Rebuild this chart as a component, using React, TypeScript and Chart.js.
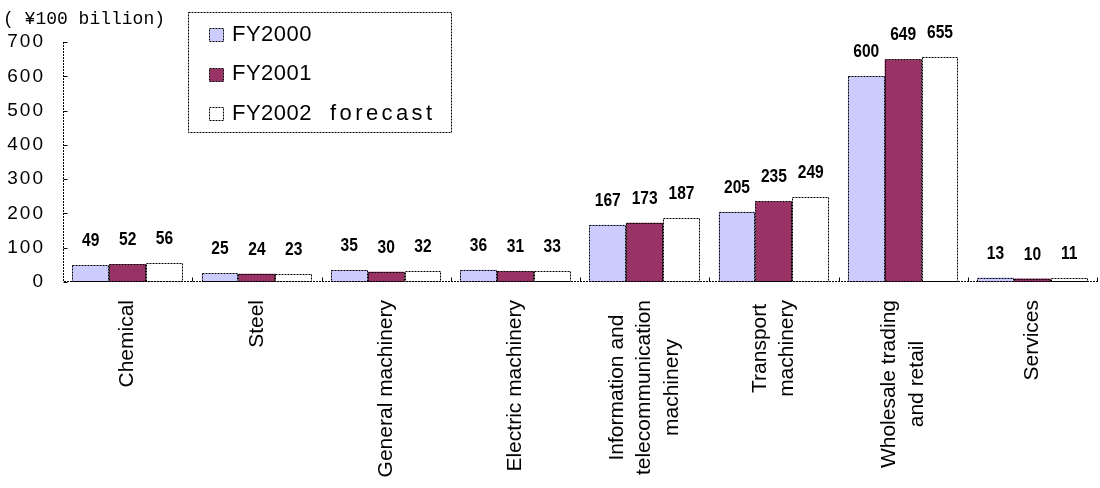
import { useEffect, useRef } from "react";
import { Chart, registerables } from "chart.js";

Chart.register(...registerables);

// Industry categories (multi-line labels are drawn rotated, each line centred)
const categories: string[][] = [
  ["Chemical"],
  ["Steel"],
  ["General machinery"],
  ["Electric machinery"],
  ["Information and", "telecommunication", "machinery"],
  ["Transport", "machinery"],
  ["Wholesale trading", "and retail"],
  ["Services"],
];

// Values in units of ¥100 billion
const fy2000 = [49, 25, 35, 36, 167, 205, 600, 13];
const fy2001 = [52, 24, 30, 31, 173, 235, 649, 10];
const fy2002Forecast = [56, 23, 32, 33, 187, 249, 655, 11];

const seriesNames = ["FY2000", "FY2001", "FY2002 forecast"];
const seriesColors = ["#CCCCFF", "#993366", "#FFFFFF"];

const yMin = 0;
const yMax = 700;
const yStep = 100;
const unitLabel = "( \u00a5100 billion)";

const DASH = [2, 1];

const decorPlugin = {
  id: "decor",
  beforeDraw(chart: any) {
    // wider digit spacing for the value-axis tick labels
    chart.ctx.letterSpacing = "2px";
  },
  beforeDatasetsDraw(chart: any) {
    chart.ctx.letterSpacing = "0px";
  },
  afterDatasetsDraw(chart: any) {
    const ctx = chart.ctx as CanvasRenderingContext2D;
    ctx.save();
    ctx.letterSpacing = "0px";
    chart.data.datasets.forEach((ds: any, di: number) => {
      const meta = chart.getDatasetMeta(di);
      meta.data.forEach((el: any, i: number) => {
        const { x, y, base, width } = el.getProps(["x", "y", "base", "width"], true);
        const left = Math.round(x - width / 2) + 0.5;
        const right = Math.round(x + width / 2) - 0.5;
        const top = Math.round(y) + 0.5;
        const bottom = Math.round(base) - 0.5;
        ctx.save();
        ctx.setLineDash(DASH);
        ctx.strokeStyle = "#000";
        ctx.lineWidth = 1;
        ctx.strokeRect(left, top, right - left, bottom - top);
        ctx.restore();

        // value label above the bar
        ctx.save();
        ctx.translate(x, y - 19);
        ctx.scale(0.82, 1);
        ctx.font = "bold 19px 'Liberation Sans', Arial, sans-serif";
        ctx.fillStyle = "#000";
        ctx.textAlign = "center";
        ctx.textBaseline = "alphabetic";
        ctx.fillText(String(ds.data[i]), 0, 0);
        ctx.restore();
      });
    });
    ctx.restore();
  },
  afterDraw(chart: any) {
    const ctx = chart.ctx as CanvasRenderingContext2D;
    const area = chart.chartArea;
    const xScale = chart.scales.x;
    const yScale = chart.scales.y;
    ctx.save();
    ctx.letterSpacing = "0px";
    ctx.strokeStyle = "#000";
    ctx.lineWidth = 1;
    ctx.setLineDash(DASH);

    const axX = Math.round(area.left) + 0.5;
    const axY = Math.round(area.bottom) - 0.5;

    // axis lines
    ctx.beginPath();
    ctx.moveTo(axX, Math.round(area.top));
    ctx.lineTo(axX, axY);
    ctx.lineTo(Math.round(area.right) + 1, axY);
    ctx.stroke();

    // value-axis tick marks (pointing into the plot)
    ctx.setLineDash([]);
    ctx.beginPath();
    yScale.ticks.forEach((t: any) => {
      const py = Math.round(yScale.getPixelForValue(t.value)) + 0.5;
      ctx.moveTo(axX, py);
      ctx.lineTo(axX + 4, py);
    });
    // category boundary tick marks
    const n = chart.data.labels.length;
    const w = (area.right - area.left) / n;
    for (let k = 1; k <= n; k++) {
      const px = Math.round(area.left + k * w) + 0.5;
      ctx.moveTo(px, axY);
      ctx.lineTo(px, axY - 4);
    }
    ctx.stroke();

    // rotated category labels
    ctx.fillStyle = "#000";
    ctx.font = "21px 'Liberation Sans', Arial, sans-serif";
    ctx.textAlign = "center";
    ctx.textBaseline = "middle";
    const lineGap = 27.5;
    const labelTop = area.bottom + 18;
    chart.data.labels.forEach((lab: any, i: number) => {
      const lines: string[] = Array.isArray(lab) ? lab : [lab];
      const cx = xScale.getPixelForValue(i);
      const maxW = Math.max(...lines.map((l) => ctx.measureText(l).width));
      lines.forEach((line, j) => {
        const lx = cx + (j - (lines.length - 1) / 2) * lineGap;
        ctx.save();
        ctx.translate(lx, labelTop + maxW / 2);
        ctx.rotate(-Math.PI / 2);
        ctx.fillText(line, 0, 0);
        ctx.restore();
      });
    });

    // unit label
    ctx.font = "18px 'Liberation Mono', monospace";
    ctx.textAlign = "left";
    ctx.textBaseline = "alphabetic";
    ctx.fillText(unitLabel, 3, 23.5);

    // legend box
    const lgLeft = area.left + 125.5;
    const lgTop = 12.5;
    const lgW = 263;
    const lgH = 120;
    ctx.fillStyle = "#fff";
    ctx.fillRect(lgLeft, lgTop, lgW, lgH);
    ctx.setLineDash(DASH);
    ctx.strokeRect(lgLeft, lgTop, lgW, lgH);
    chart.data.datasets.forEach((ds: any, di: number) => {
      const baseline = 40.7 + di * 39.6;
      const sy = Math.round(baseline - 12.5) + 0.5;
      const sx = Math.round(lgLeft + 20) + 0.5;
      ctx.fillStyle = ds.backgroundColor;
      ctx.fillRect(sx, sy, 14, 13);
      ctx.setLineDash(DASH);
      ctx.strokeRect(sx, sy, 14, 13);
      ctx.fillStyle = "#000";
      ctx.font = "22px 'Liberation Sans', Arial, sans-serif";
      const words = String(ds.label).split(" ");
      let tx = lgLeft + 43.5;
      words.forEach((word, wi) => {
        ctx.letterSpacing = wi === 0 ? "0.5px" : "3.4px";
        ctx.fillText(word, tx, baseline);
        tx += ctx.measureText(word).width + 18;
      });
      ctx.letterSpacing = "0px";
    });
    ctx.restore();
  },
};

export default function App() {
  const canvasRef = useRef<HTMLCanvasElement | null>(null);

  useEffect(() => {
    if (!canvasRef.current) return;
    const values = [fy2000, fy2001, fy2002Forecast];
    const chart = new Chart(canvasRef.current, {
      type: "bar",
      data: {
        labels: categories,
        datasets: seriesNames.map((name, i) => ({
          label: name,
          data: values[i],
          backgroundColor: seriesColors[i],
          borderWidth: 0,
          categoryPercentage: 0.855,
          barPercentage: 1,
        })),
      },
      options: {
        responsive: false,
        animation: false,
        events: [],
        layout: { padding: { top: 42, right: 3, left: 0, bottom: 0 } },
        plugins: {
          legend: { display: false },
          tooltip: { enabled: false },
          title: { display: false },
        },
        scales: {
          x: {
            grid: { display: false, drawTicks: false },
            border: { display: false },
            ticks: { display: false },
            afterFit: (s: any) => {
              s.height = 206;
            },
          },
          y: {
            min: yMin,
            max: yMax,
            grid: { display: false, drawTicks: false },
            border: { display: false },
            ticks: {
              stepSize: yStep,
              padding: 18,
              color: "#000",
              font: { family: "'Liberation Sans', Arial, sans-serif", size: 19 },
            },
            afterFit: (s: any) => {
              s.width = 63;
            },
          },
        },
      },
      plugins: [decorPlugin],
    } as any);
    return () => chart.destroy();
  }, []);

  return (
    <div style={{ position: "fixed", left: 0, top: 0, width: 1100, height: 488, background: "#fff" }}>
      <canvas ref={canvasRef} width={1100} height={488} />
    </div>
  );
}
